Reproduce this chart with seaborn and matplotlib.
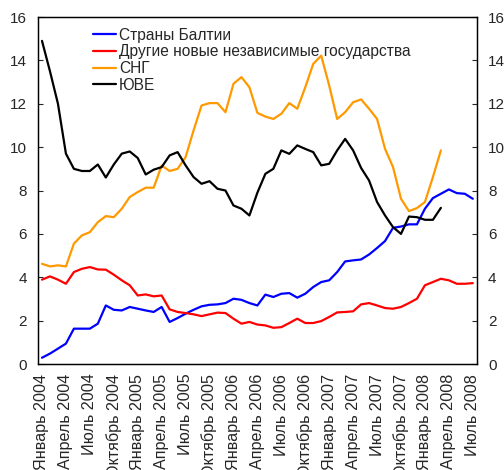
import pandas as pd
import seaborn as sns
import matplotlib.pyplot as plt
import numpy as np

months = ["Январь", "Апрель", "Июль", "Октябрь"]
years = [2004, 2005, 2006, 2007, 2008]
tick_labels = [f"{m} {y}" for y in years for m in months][:19]

baltic = [0.29, 0.48, 0.71, 0.94, 1.63, 1.63, 1.63, 1.86, 2.70, 2.50,
          2.47, 2.63, 2.55, 2.47, 2.40, 2.63, 1.94, 2.12, 2.32, 2.50,
          2.66, 2.73, 2.75, 2.81, 3.01, 2.96, 2.81, 2.70, 3.20, 3.09,
          3.24, 3.27, 3.06, 3.24, 3.55, 3.78, 3.86, 4.24, 4.73, 4.78,
          4.82, 5.05, 5.35, 5.67, 6.28, 6.34, 6.44, 6.44, 7.16, 7.65,
          7.85, 8.05, 7.88, 7.85, 7.62]
other_nis = [3.89, 4.04, 3.89, 3.70, 4.24, 4.39, 4.47, 4.36, 4.35, 4.12,
             3.86, 3.63, 3.16, 3.21, 3.12, 3.16, 2.52, 2.40, 2.35, 2.29,
             2.21, 2.29, 2.37, 2.35, 2.09, 1.86, 1.94, 1.82, 1.78, 1.67,
             1.70, 1.89, 2.09, 1.89, 1.89, 1.98, 2.17, 2.38, 2.40, 2.43,
             2.75, 2.81, 2.70, 2.58, 2.55, 2.63, 2.81, 3.01, 3.63, 3.78,
             3.93, 3.86, 3.70, 3.70, 3.73]
cis = [4.62, 4.50, 4.55, 4.50, 5.55, 5.93, 6.08, 6.54, 6.82, 6.77,
       7.16, 7.70, 7.93, 8.13, 8.13, 9.15, 8.90, 9.00, 9.54, 10.77,
       11.92, 12.03, 12.03, 11.61, 12.92, 13.23, 12.76, 11.58, 11.41, 11.30,
       11.54, 12.03, 11.77, 12.76, 13.84, 14.22, 12.84, 11.30, 11.61, 12.07,
       12.20, 11.77, 11.30, 9.92, 9.08, 7.62, 7.05, 7.19, 7.47, 8.62,
       9.85]
see = [14.90, 13.50, 12.00, 9.70, 9.00, 8.90, 8.90, 9.20, 8.60, 9.20,
       9.70, 9.80, 9.50, 8.74, 8.96, 9.08, 9.62, 9.77, 9.16, 8.62,
       8.31, 8.43, 8.08, 8.00, 7.31, 7.16, 6.85, 7.90, 8.77, 9.00,
       9.85, 9.69, 10.08, 9.92, 9.77, 9.16, 9.23, 9.85, 10.38, 9.85,
       9.04, 8.46, 7.47, 6.85, 6.31, 6.00, 6.80, 6.77, 6.65, 6.65,
       7.20]

series = [
    ("Страны Балтии", baltic, "#0000ff"),
    ("Другие новые независимые государства", other_nis, "#ff0000"),
    ("СНГ", cis, "#ff9900"),
    ("ЮВЕ", see, "#000000"),
]

sns.set_style("white")
plt.rcParams['font.family'] = ['Liberation Sans', 'DejaVu Sans']

fig = plt.figure(figsize=(5.04, 4.70), dpi=100)
ax = fig.add_axes([0.0754, 0.2255, 0.8706, 0.7383])

for name, vals, col in series:
    df = pd.DataFrame({"month": np.arange(len(vals)), "value": vals})
    sns.lineplot(data=df, x="month", y="value", color=col, linewidth=1.6,
                 label=name, ax=ax)

ax.set_xlim(-0.5, 54.5)
ax.set_ylim(0, 16)
ax.set_yticks(range(0, 17, 2))
ax.set_xticks(range(0, 55, 3))
ax.set_xticklabels(tick_labels, rotation=90, fontsize=11.6)
ax.set_xticks(np.arange(1, 54, 1.5), minor=True)
ax.tick_params(axis="x", which="major", length=0, pad=7)
ax.tick_params(axis="x", which="minor", direction="in", length=3, width=0.8)
ax.tick_params(axis="y", direction="in", length=3.5, width=0.8, labelsize=11, pad=8)
ax.set_xlabel("")
ax.set_ylabel("")
for s in ax.spines.values():
    s.set_color("black")
    s.set_linewidth(0.9)

ax2 = ax.twinx()
ax2.set_ylim(0, 16)
ax2.set_yticks(range(0, 17, 2))
ax2.tick_params(axis="y", direction="in", length=3.5, width=0.8, labelsize=11, pad=8)
for s in ax2.spines.values():
    s.set_color("black")
    s.set_linewidth(0.9)

ax.legend(loc="upper left", bbox_to_anchor=(0.10, 1.0), frameon=False,
          fontsize=11.2, handlelength=1.5, handletextpad=0.2,
          labelspacing=0.1, borderaxespad=0.3)

fig.savefig("out.png", dpi=100)
